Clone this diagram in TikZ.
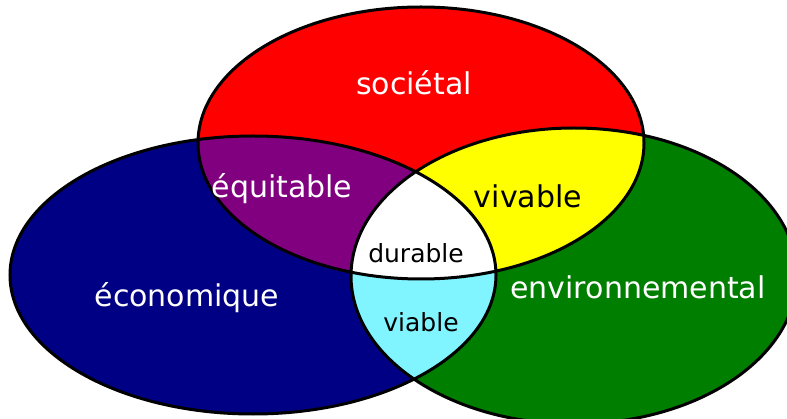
\documentclass[tikz,border=0pt]{standalone}
\usepackage{fontspec}
\setmainfont{DejaVu Sans}

\definecolor{socred}{RGB}{255,0,0}
\definecolor{ecoblue}{RGB}{0,0,132}
\definecolor{envgreen}{RGB}{0,126,0}
\definecolor{equipurple}{RGB}{128,0,128}
\definecolor{vivyellow}{RGB}{255,255,0}
\definecolor{viacyan}{RGB}{128,244,255}

\begin{document}
\begin{tikzpicture}[x=1pt, y=-1pt,
    biglabel/.style={anchor=base, text=white, font=\fontsize{30}{30}\selectfont},
    smalllabel/.style={anchor=base, text=black, font=\fontsize{25}{25}\selectfont}]
    \useasboundingbox (0,0) rectangle (787,419);

    \def\socpath{(421,143) ellipse [x radius=223pt, y radius=136pt]}
    \def\ecopath{(253,275) ellipse [x radius=243pt, y radius=139pt]}
    \def\envpath{(574,276) ellipse [x radius=223pt, y radius=148pt]}

    % Three spheres
    \fill[ecoblue] \ecopath;
    \fill[envgreen] \envpath;
    \fill[socred] \socpath;

    % Overlaps
    \begin{scope} \clip \socpath; \fill[equipurple] \ecopath; \end{scope}
    \begin{scope} \clip \socpath; \fill[vivyellow] \envpath; \end{scope}
    \begin{scope} \clip \ecopath; \fill[viacyan] \envpath; \end{scope}
    \begin{scope} \clip \socpath; \clip \ecopath; \fill[white] \envpath; \end{scope}

    % Outlines
    \draw[line width=3pt] \socpath \ecopath \envpath;

    % Labels
    \node[biglabel] (soc) at (414,95) {sociétal};
    \node[biglabel] (equi) at (282,198) {équitable};
    \node[biglabel, text=black] (viv) at (528,208) {vivable};
    \node[smalllabel] (dur) at (416,263) {durable};
    \node[biglabel] (eco) at (187,307) {économique};
    \node[biglabel] (env) at (638,299) {environnemental};
    \node[smalllabel] (via) at (421,332) {viable};
\end{tikzpicture}
\end{document}
